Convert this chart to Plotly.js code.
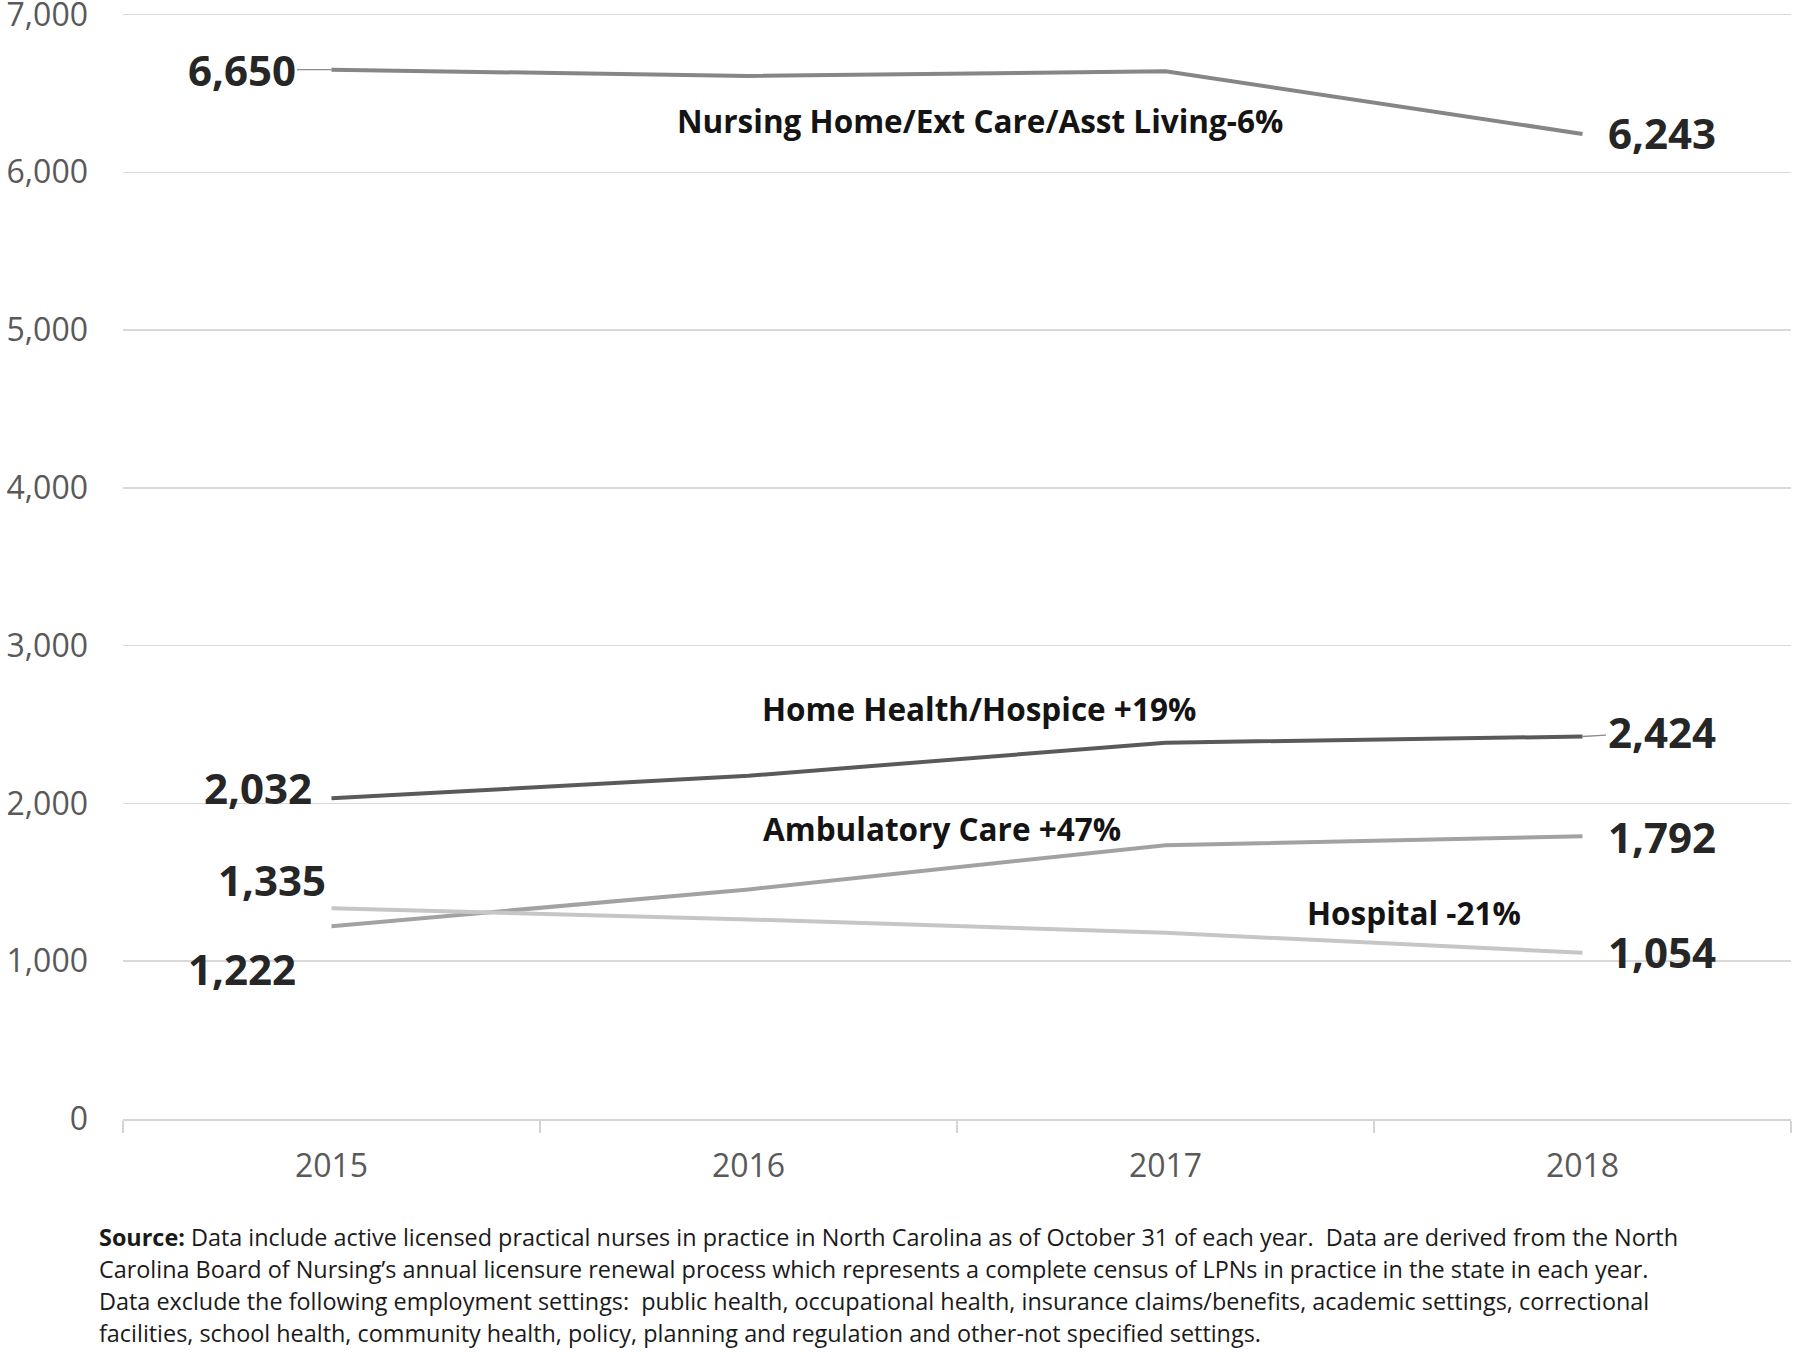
<!DOCTYPE html>
<html>
<head>
<meta charset="utf-8">
<script src="https://cdn.plot.ly/plotly-3.0.1.min.js"></script>
<style>
  html, body { margin: 0; padding: 0; background: #ffffff; }
  #chart { width: 1800px; height: 1352px; }
</style>
</head>
<body>
<div id="chart"></div>
<script>
// ---------- data ----------
const years = ['2015', '2016', '2017', '2018'];
const nursingHome = [6650, 6610, 6640, 6243];
const homeHealth = [2032, 2175, 2385, 2424];
const ambulatory = [1222, 1455, 1735, 1792];
const hospital = [1335, 1265, 1180, 1054];
const seriesNames = [
  'Nursing Home/Ext Care/Asst Living-6%',
  'Home Health/Hospice +19%',
  'Ambulatory Care +47%',
  'Hospital -21%'
];
const yTicks = [0, 1000, 2000, 3000, 4000, 5000, 6000, 7000];
const footnoteLines = [
  '<b>Source:</b> Data include active licensed practical nurses in practice in North Carolina as of October 31 of each year.  Data are derived from the North',
  'Carolina Board of Nursing\u2019s annual licensure renewal process which represents a complete census of LPNs in practice in the state in each year.',
  'Data exclude the following employment settings:  public health, occupational health, insurance claims/benefits, academic settings, correctional',
  'facilities, school health, community health, policy, planning and regulation and other-not specified settings.'
];

// ---------- layout geometry ----------
const W = 1800, H = 1352;
const YMAX = 7060;
const L = 123, R = 1791, B = 1119.5;
const T = B - (B - 14.7) * YMAX / 7000;
const px = x => (x - L) / (R - L);
const py = y => (B - y) / (B - T);

const FONT = '"Open Sans", "Liberation Sans", Arial, sans-serif';
const txtColor = '#262626';
const colors = ['#868686', '#5a5a5a', '#a2a2a2', '#c6c6c6'];
const allSeries = [nursingHome, homeHealth, ambulatory, hospital];
const xIdx = years.map((_, i) => i);

const traces = allSeries.map((vals, i) => ({
  type: 'scatter',
  mode: 'lines',
  x: years,
  y: vals,
  name: seriesNames[i],
  line: { color: colors[i], width: 4 },
  hoverinfo: 'skip'
}));

const fmt = v => v.toLocaleString('en-US');
const numFont = { family: FONT, size: 42, color: txtColor };

const annotations = [];
const first = 0, last = years.length - 1;
function numLabel(idx, val, opts) {
  return Object.assign({ x: xIdx[idx], y: val, xref: 'x', yref: 'y',
    text: '<b>' + fmt(val) + '</b>', font: numFont, showarrow: false }, opts);
}
// first-year labels
annotations.push(numLabel(first, nursingHome[first], { showarrow: true, arrowhead: 0, arrowwidth: 1.3,
  arrowcolor: '#8c8c8c', ax: -90, ay: 0 }));
annotations.push(numLabel(first, homeHealth[first], { xanchor: 'right', xshift: -18, yshift: 11 }));
annotations.push(numLabel(first, hospital[first], { xanchor: 'right', xshift: -4, yshift: 29 }));
annotations.push(numLabel(first, ambulatory[first], { xanchor: 'right', xshift: -34, yshift: -42 }));
// last-year labels
annotations.push(numLabel(last, nursingHome[last], { xanchor: 'left', xshift: 23, yshift: 1 }));
annotations.push(numLabel(last, homeHealth[last], { showarrow: true, arrowhead: 0, arrowwidth: 1.3,
  arrowcolor: '#8c8c8c', ax: 79, ay: -5 }));
annotations.push(numLabel(last, ambulatory[last], { xanchor: 'left', xshift: 23, yshift: 0 }));
annotations.push(numLabel(last, hospital[last], { xanchor: 'left', xshift: 23, yshift: 1 }));

// series name labels
const nameFont = { family: FONT, size: 31.5, color: '#141414' };
const namePos = [[980, 121], [979, 709], [942, 829], [1414, 913]];
seriesNames.forEach((n, i) => {
  annotations.push({ xref: 'paper', yref: 'paper', x: px(namePos[i][0]), y: py(namePos[i][1]),
    xanchor: 'center', yanchor: 'middle', showarrow: false, text: '<b>' + n + '</b>', font: nameFont });
});

// footnote
const footY = [1237.5, 1269.7, 1301.8, 1334];
footnoteLines.forEach((t, i) => {
  annotations.push({ xref: 'paper', yref: 'paper', x: px(97), y: py(footY[i]),
    xanchor: 'left', yanchor: 'middle', showarrow: false, text: t,
    font: { family: FONT, size: 23.4, color: '#1a1a1a' } });
});

const layout = {
  width: W, height: H,
  margin: { l: L, r: W - R, t: T, b: H - B, pad: 0 },
  paper_bgcolor: '#ffffff',
  plot_bgcolor: '#ffffff',
  showlegend: false,
  hovermode: false,
  xaxis: {
    type: 'category',
    categoryorder: 'array', categoryarray: years,
    range: [-0.5, years.length - 0.5],
    showgrid: false,
    zeroline: false,
    showline: true, linecolor: '#d4d4d4', linewidth: 2,
    ticks: 'outside', tickson: 'boundaries', ticklen: 12, tickcolor: '#d4d4d4', tickwidth: 1.5,
    tickfont: { family: FONT, size: 32, color: '#595959' },
    ticklabelstandoff: 18,
    fixedrange: true
  },
  yaxis: {
    range: [0, YMAX],
    tickmode: 'array',
    tickvals: yTicks,
    ticktext: yTicks.map(fmt),
    showgrid: true, gridcolor: '#d9d9d9', gridwidth: 1.5,
    zeroline: false,
    showline: false,
    ticks: '',
    tickfont: { family: FONT, size: 32, color: '#595959' },
    ticklabelstandoff: 34,
    ticklabeloverflow: 'allow',
    fixedrange: true
  },
  annotations: annotations
};

Plotly.newPlot('chart', traces, layout, { staticPlot: true, displayModeBar: false });
</script>
</body>
</html>
